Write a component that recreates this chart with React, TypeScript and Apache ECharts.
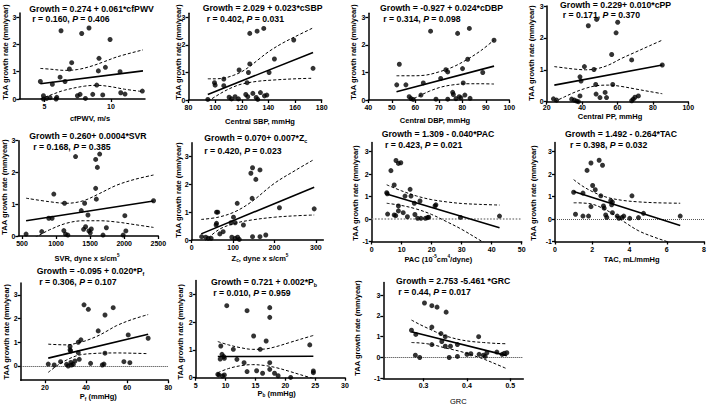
import React, { useEffect, useRef } from "react";
import * as echarts from "echarts";

// ---------- data ----------
const cfpwvPts = [[6.25,2.5],[7.8,2.4],[8.35,2.6],[9.93,2.18],[9.1,1.49],[9.58,1.16],[9.05,1.03],[7.05,1.33],[6.88,1.1],[6.18,0.8],[6.55,0.64],[5.6,0.54],[4.7,0.64],[10.68,1.0],[8.93,0.51],[12.35,0.29],[10.73,0.23],[11.05,0.18],[4.93,0.12],[5.18,0.02],[4.93,0],[5.43,0.05],[5.93,0.06],[5.88,0],[7.48,0.12],[7.68,0.17],[8.08,0.02],[8.63,0.17],[9.38,0.15]];
const cfpwvFit = [[4.7,0.56],[12.4,1.03]];
const cfpwvUpper = [[4.7,1.12],[5.5,1.09],[6.5,1.05],[7.5,1.08],[8.5,1.2],[9.5,1.37],[10.5,1.55],[12.4,1.8]];
const cfpwvLower = [[4.7,0.0],[5.5,0.15],[6.5,0.32],[8,0.47],[9,0.5],[10,0.45],[11,0.36],[12.4,0.27]];

const csbpPts = [[126,2.42],[131.5,2.5],[136.5,2.6],[159,2.18],[144.5,1.49],[126,1.31],[118,1.09],[125,1.0],[140.5,1.0],[173.5,1.15],[106.5,0.76],[99.5,0.63],[100,0.54],[106.5,0.52],[124,0.63],[94.5,0.02],[110.5,0.1],[112.3,0.04],[115,0.12],[117.5,0.04],[123,0.2],[124.5,0.12],[128.3,0.24],[130.8,0.09],[132,0.02],[134,0.27],[137,0.15],[138.8,0.18]];
const csbpFit = [[94.5,0.2],[173.5,1.73]];
const csbpUpper = [[94.5,0.77],[100,0.77],[107,0.8],[114,0.9],[120,1.03],[126,1.22],[132,1.45],[140,1.75],[150,2.05],[160,2.3],[173.5,2.62]];
const csbpLower = [[94.5,-0.05],[100,0.12],[107,0.32],[114,0.48],[120,0.58],[132,0.68],[145,0.73],[160,0.77],[173.5,0.79]];

const cdbpPts = [[52.1,0.55],[53.2,1.3],[56,0.55],[57.4,0.12],[58.2,0.05],[59.1,0.02],[62.4,0.18],[63.4,0.62],[66.5,2.5],[68.8,0.03],[70.8,0.78],[73,1.1],[73.8,1.02],[73.8,0.03],[75.9,0.28],[76.2,0.2],[77.3,0.05],[78,2.42],[78.7,0.12],[79.4,0.08],[80.1,1.14],[80.4,0.62],[81.1,0.18],[82.3,1.48],[83,2.6],[83.3,0.06],[88.7,1.0],[93.5,2.17]];
const cdbpFit = [[52,0.3],[93.5,1.23]];
const cdbpUpper = [[52,0.88],[58,0.88],[64,0.9],[70,1.02],[76,1.2],[82,1.47],[88,1.8],[93.5,2.18]];
const cdbpLower = [[52,-0.3],[56,-0.1],[61,0.12],[66,0.32],[71,0.47],[76,0.55],[82,0.59],[88,0.59],[93.5,0.58]];

const cppPts = [[43.5,2.38],[48.2,2.58],[60.1,2.49],[59.2,2.16],[56.7,1.48],[68,1.31],[41.3,1.1],[46.7,1.01],[85.3,1.15],[38.8,0.78],[39.4,0.65],[47.7,0.54],[57.3,0.54],[47.9,0.24],[53,0.29],[50.1,0.13],[53.8,0.13],[38.8,0.18],[23.8,0.09],[25.6,0.05],[34.1,0.08],[35.6,0.05],[36.9,0.02],[37.9,0],[68,0.03],[68.9,0.08],[69.9,0.14],[71.8,0.18]];
const cppFit = [[24.3,0.52],[85.3,1.15]];
const cppUpper = [[24.3,1.1],[30,1.06],[36,1.02],[42,1.0],[48,1.03],[55,1.15],[62,1.35],[70,1.55],[78,1.75],[85.3,1.93]];
const cppLower = [[24.3,0.0],[30,0.15],[36,0.3],[42,0.42],[48,0.5],[55,0.52],[62,0.48],[70,0.4],[78,0.32],[85.3,0.25]];

const svrPts = [[1286,2.5],[1581,2.41],[1640,2.58],[1606,2.16],[1581,1.5],[1591,1.16],[967,1.32],[1124,1.03],[1419,1.03],[2430,1.11],[1370,0.8],[893,0.56],[942,0.56],[1468,0.66],[2009,0.64],[560,0.06],[790,0.14],[1114,0.17],[1173,0.03],[1139,0.06],[1404,0.21],[1433,0.29],[1482,0.16],[1502,0.1],[1517,0.22],[1738,0.26],[1689,0.03],[1984,0.03],[2024,0.16]];
const svrFit = [[560,0.48],[2430,1.1]];
const svrUpper = [[560,1.19],[900,1.08],[1150,1.03],[1400,1.11],[1640,1.34],[1890,1.6],[2150,1.78],[2430,1.92]];
const svrLower = [[560,-0.2],[750,0.02],[900,0.19],[1150,0.4],[1400,0.48],[1640,0.48],[1890,0.44],[2150,0.36],[2430,0.27]];

const zcPts = [[143,2.4],[147,2.6],[165,2.52],[155,2.18],[146,1.5],[110,1.32],[60,1.0],[63,1.0],[212,1.16],[296,1.12],[101,0.82],[105,0.62],[95,0.62],[60,0.6],[125,0.54],[59,0.54],[24,0.12],[34,0.1],[40,0.06],[47,0.06],[68,0.22],[76,0.3],[97,0.1],[105,0.06],[111,0.1],[115,0.02],[147,0.12],[165,0.12],[179,0.18]];
const zcFit = [[23,0.22],[296,1.9]];
const zcUpper = [[23,0.74],[64,0.82],[105,1.02],[145,1.38],[200,2.04],[250,2.5],[296,2.9]];
const zcLower = [[23,-0.18],[64,0.36],[105,0.6],[145,0.72],[200,0.82],[250,0.87],[296,0.9]];

const pacPts = [[5.0,1.17],[5.2,1.12],[5.3,0.22],[6.4,2.15],[7.5,1.51],[7.5,0.18],[8.0,0.15],[8.1,2.6],[8.9,0.36],[8.9,0.58],[8.9,2.47],[9.7,2.5],[10.5,0.28],[11.1,1.02],[11.9,0.1],[12.8,1.32],[13.1,1.02],[14.2,0.7],[14.4,0.2],[15.3,0.03],[16.1,0.8],[16.4,0.03],[17.9,0.03],[18.6,0.06],[19.0,0.08],[21.1,0.58],[21.4,0.63],[29.6,0.07],[42.6,0.13]];
const pacFit = [[5,1.11],[42.6,-0.39]];
const pacUpper = [[5,1.52],[10,1.25],[15,1.02],[20,0.86],[25,0.76],[30,0.69],[36,0.65],[42.6,0.62]];
const pacLower = [[5,0.7],[10,0.6],[15,0.44],[20,0.2],[25,-0.12],[30,-0.46],[36.8,-1.0],[42.6,-1.45]];

const tacPts = [[1.0,1.19],[1.5,1.15],[1.1,0.21],[1.5,0.13],[1.8,0.13],[1.72,2.16],[1.93,2.49],[2.02,1.49],[2.16,1.3],[1.93,0.55],[2.37,2.61],[2.55,2.39],[2.46,1.03],[2.6,0.58],[2.64,0.48],[2.99,0.81],[3.08,0.75],[3.04,0.63],[2.72,0.18],[2.78,0.07],[3.08,0.28],[3.34,0.13],[3.43,0.03],[3.6,0.07],[3.69,0.13],[4.01,0.03],[4.13,1.03],[4.48,0.06],[4.75,0.25],[6.72,0.13]];
const tacFit = [[1.0,1.22],[6.72,-0.29]];
const tacUpper = [[1.0,1.75],[1.5,1.45],[2,1.22],[2.5,1.04],[3,0.92],[3.7,0.82],[4.5,0.76],[5.5,0.72],[6.72,0.7]];
const tacLower = [[1.0,0.72],[1.5,0.71],[2,0.66],[2.5,0.5],[3,0.28],[3.7,-0.12],[4.5,-0.53],[5.3,-0.8],[6.0,-1.0],[6.72,-1.2]];

const pfPts = [[39,2.58],[41.1,2.39],[53.2,2.46],[49.2,2.15],[45.9,1.48],[60.5,1.31],[70.2,1.17],[37.5,1.1],[36.2,1.0],[32.2,0.82],[32.2,0.68],[32.5,0.63],[36.2,0.56],[49.2,0.54],[21.6,0.08],[24.5,0.04],[27.6,0.18],[30.5,0.07],[31.3,0],[32.6,0.15],[32.9,0.04],[33.8,0.07],[34.6,0.21],[36.7,0.28],[42.2,0.11],[47.9,0.04],[48.7,0.08],[58.4,0.18],[61.3,0.14]];
const pfFit = [[21.6,0.33],[70.2,1.34]];
const pfUpper = [[21.6,0.92],[26,0.9],[30.5,0.89],[35,0.95],[38.6,1.03],[42.5,1.15],[46.7,1.31],[50.7,1.5],[54.8,1.7],[62,1.95],[70.2,2.17]];
const pfLower = [[21.6,-0.27],[26,0.02],[30.5,0.25],[35,0.42],[38.6,0.49],[42.5,0.52],[46.7,0.54],[54.8,0.55],[62,0.54],[70.2,0.52]];

const pbPts = [[10.2,2.59],[13.6,2.41],[17.4,2.52],[17.4,2.17],[14.7,1.5],[16.8,1.32],[9.2,1.14],[11.3,1.02],[15.8,1.02],[24.1,1.18],[9.4,0.84],[9.7,0.76],[9.8,0.7],[9.1,0.67],[11.9,0.66],[13.1,0.54],[17.4,0.54],[8.7,0.12],[8.9,0.1],[9.5,0.06],[9.8,0.1],[13.6,0.22],[15.2,0.25],[16.2,0.16],[17.4,0.3],[18.2,0.16],[18.8,0.07],[20.9,0.01],[24.7,0.24],[24.7,0.18]];
const pbFit = [[8.7,0.76],[24.7,0.77]];
const pbUpper = [[8.7,1.3],[10.5,1.18],[12.5,1.08],[14.5,1.02],[16.5,1.03],[18.5,1.12],[20.5,1.25],[22.5,1.38],[24.7,1.52]];
const pbLower = [[8.7,0.18],[10.5,0.33],[12.5,0.43],[14.5,0.47],[16.5,0.44],[18.5,0.36],[20.5,0.24],[22.5,0.11],[24.7,-0.03]];

const grcPts = [[0.302,2.62],[0.319,2.49],[0.331,2.42],[0.352,2.18],[0.272,1.31],[0.282,1.11],[0.319,1.46],[0.34,1.15],[0.35,1.0],[0.427,1.0],[0.342,0.77],[0.319,0.62],[0.35,0.54],[0.362,0.54],[0.378,0.62],[0.281,0.11],[0.291,0],[0.359,0],[0.378,0.05],[0.4,0.15],[0.409,0.18],[0.428,0.15],[0.438,0.11],[0.442,0.05],[0.446,0.23],[0.469,0.26],[0.481,0.15],[0.486,0.2],[0.492,0.23]];
const grcFit = [[0.272,1.24],[0.492,0.09]];
const grcUpper = [[0.272,1.8],[0.29,1.6],[0.308,1.42],[0.328,1.23],[0.346,1.07],[0.365,0.95],[0.385,0.85],[0.41,0.77],[0.438,0.72],[0.465,0.68],[0.492,0.66]];
const grcLower = [[0.272,0.72],[0.29,0.7],[0.308,0.66],[0.328,0.58],[0.346,0.48],[0.365,0.39],[0.385,0.29],[0.41,0.13],[0.438,-0.07],[0.465,-0.3],[0.492,-0.54]];

// tick labels
const ticks0to3 = [0, 1, 2, 3];
const ticksM1to3 = [-1, 0, 1, 2, 3];
const cfpwvTicks = [5, 10];
const csbpTicks = [80, 100, 120, 140, 160, 180];
const cdbpTicks = [40, 50, 60, 70, 80, 90, 100];
const cppTicks = [20, 40, 60, 80, 100];
const svrTicks = [500, 1000, 1500, 2000, 2500];
const zcTicks = [0, 100, 200, 300];
const pacTicks = [0, 10, 20, 30, 40, 50];
const tacTicks = [0, 2, 4, 6, 8];
const pfTicks = [20, 40, 60, 80];
const pbTicks = [5, 10, 15, 20, 25, 30];
const grcTicks = [0.2, 0.3, 0.4, 0.5];

// texts
const eqTexts = [
  "Growth = 0.274 + 0.061*cfPWV",
  "Growth = 2.029 + 0.023*cSBP",
  "Growth = -0.927 + 0.024*cDBP",
  "Growth = 0.229+ 0.010*cPP",
  "Growth = 0.260+ 0.0004*SVR",
  "Growth = 0.070+ 0.007*Z{sub|c}",
  "Growth = 1.309 - 0.040*PAC",
  "Growth = 1.492 - 0.264*TAC",
  "Growth = -0.095 + 0.020*P{sub|f}",
  "Growth = 0.721 + 0.002*P{sub|b}",
  "Growth = 2.753 -5.461 *GRC",
];
const statTexts = [
  "r = 0.160, {i|P} = 0.406",
  "r = 0.402, {i|P} = 0.031",
  "r = 0.314, {i|P} = 0.098",
  "r = 0.171, {i|P} = 0.370",
  "r = 0.168, {i|P} = 0.385",
  "r = 0.420, {i|P} = 0.023",
  "r = 0.423, {i|P} = 0.021",
  "r = 0.398, {i|P} = 0.032",
  "r = 0.306, {i|P} = 0.107",
  "r = 0.010, {i|P} = 0.959",
  "r = 0.44, {i|P} = 0.017",
];
const xNames = [
  "cfPWV, m/s",
  "Central SBP, mmHg",
  "Central DBP, mmHg",
  "Central PP, mmHg",
  "SVR, dyne x s/cm{sup|5}",
  "Z{sub|c}, dyne x s/cm{sup|5}",
  "PAC (10{sup|-5}cm{sup|4}/dyne)",
  "TAC, mL/mmHg",
  "P{sub|f} (mmHg)",
  "P{sub|b} (mmHg)",
  "GRC",
];
const yName = "TAA growth rate (mm/year)";

const FONT = '"Liberation Sans", Arial, Helvetica, sans-serif';

// layout per panel: grid box [left, top, width, height], axis ranges, text anchors
const panels: any[] = [
  { pts: cfpwvPts, fit: cfpwvFit, up: cfpwvUpper, lo: cfpwvLower, box: [19.3, 13, 125.7, 86], xr: [3.12, 12.55], yr: [0, 3.15], xt: cfpwvTicks, yt: ticks0to3, zero: null, t1: [29.3, 8.5], t2: [32.3, 18.5], xn: [90, 118.3], yn: [5.3, 52] },
  { pts: csbpPts, fit: csbpFit, up: csbpUpper, lo: csbpLower, box: [188.5, 13.3, 133.2, 86.7], xr: [80, 180], yr: [0, 3.15], xt: csbpTicks, yt: ticks0to3, zero: null, t1: [202.7, 8.3], t2: [206.7, 19.3], xn: [260, 121.7], yn: [178.3, 52] },
  { pts: cdbpPts, fit: cdbpFit, up: cdbpUpper, lo: cdbpLower, box: [368.3, 13.3, 141, 86.7], xr: [40, 100], yr: [0, 3.15], xt: cdbpTicks, yt: ticks0to3, zero: null, t1: [380, 8.3], t2: [383.3, 19.3], xn: [435, 120.7], yn: [353.3, 52] },
  { pts: cppPts, fit: cppFit, up: cppUpper, lo: cppLower, box: [546.7, 6, 141.6, 95.7], xr: [20, 100], yr: [0, 3], xt: cppTicks, yt: ticks0to3, zero: null, t1: [560, 4.8], t2: [562.7, 15], xn: [610, 116.5], yn: [531, 53], xMargin: 2 },
  { pts: svrPts, fit: svrFit, up: svrUpper, lo: svrLower, box: [18.3, 140.7, 140, 95.3], xr: [446, 2500], yr: [0, 3], xt: svrTicks, yt: ticks0to3, zero: null, t1: [29.3, 136], t2: [33.3, 147.3], xn: [87, 258.3], yn: [4.5, 187] },
  { pts: zcPts, fit: zcFit, up: zcUpper, lo: zcLower, box: [191.7, 142.7, 131.6, 97.3], xr: [0, 318], yr: [0, 3.5], xt: zcTicks, yt: ticks0to3, zero: null, t1: [204.3, 138.3], t2: [204.3, 150.7], xn: [260, 258.3], yn: [178.5, 190] },
  { pts: pacPts, fit: pacFit, up: pacUpper, lo: pacLower, box: [371.7, 142.5, 150, 99], xr: [0, 50], yr: [-1, 3.4], xt: pacTicks, yt: ticksM1to3, zero: { color: "#8a8a8a", width: 1.6 }, t1: [381.7, 134], t2: [385, 145], xn: [438.3, 259.3], yn: [355, 193] },
  { pts: tacPts, fit: tacFit, up: tacUpper, lo: tacLower, box: [555, 142.5, 151.7, 99], xr: [0, 8], yr: [-1, 3.4], xt: tacTicks, yt: ticksM1to3, zero: { color: "#555", width: 1 }, t1: [565, 134], t2: [570, 145], xn: [631.7, 259.3], yn: [533.3, 193] },
  { pts: pfPts, fit: pfFit, up: pfUpper, lo: pfLower, box: [20.7, 283, 147.6, 97.2], xr: [8.2, 80], yr: [-0.6, 3.5], xt: pfTicks, yt: ticks0to3, zero: { color: "#333", width: 1 }, t1: [36.7, 271], t2: [39.3, 282.3], xn: [98.3, 396.7], yn: [6, 331.7] },
  { pts: pbPts, fit: pbFit, up: pbUpper, lo: pbLower, box: [195.7, 280.4, 149.3, 97.3], xr: [5, 30], yr: [0, 3.5], xt: pbTicks, yt: ticks0to3, zero: null, t1: [211, 281.7], t2: [213.3, 293.3], xn: [276.7, 393.3], yn: [180, 331.7] },
  { pts: grcPts, fit: grcFit, up: grcUpper, lo: grcLower, box: [383.3, 282.6, 140, 95.7], xr: [0.207, 0.53], yr: [-1, 3.6], xt: grcTicks, yt: ticksM1to3, zero: { color: "#333", width: 1 }, t1: [396, 281], t2: [398.3, 291.7], xn: [458.3, 401], yn: [357.3, 328], plainX: true },
];

function rich(fs: number) {
  return {
    i: { fontStyle: "italic", fontWeight: "bold", fontSize: fs, fontFamily: FONT, fill: "#000" },
    sub: { fontSize: fs * 0.62, fontWeight: "bold", fontFamily: FONT, verticalAlign: "bottom", fill: "#000" },
    sup: { fontSize: fs * 0.62, fontWeight: "bold", fontFamily: FONT, verticalAlign: "top", fill: "#000" },
  };
}

function txt(text: string, x: number, y: number, fs: number, align: string, opts: any = {}) {
  return {
    type: "text",
    x,
    y,
    rotation: opts.rotation || 0,
    silent: true,
    style: {
      text,
      fill: "#000",
      fontSize: fs,
      fontWeight: opts.weight || "bold",
      fontFamily: FONT,
      align,
      verticalAlign: "middle",
      lineHeight: fs * 1.3,
      rich: rich(fs),
    },
  };
}

const fmt = (v: number) => String(Math.round(v * 1000) / 1000);

function buildOption() {
  const grid: any[] = [];
  const xAxis: any[] = [];
  const yAxis: any[] = [];
  const series: any[] = [];
  const graphic: any[] = [];
  const axisCommon = {
    type: "value",
    splitLine: { show: false },
    axisLine: { show: true, onZero: false, lineStyle: { color: "#000", width: 1.5 } },
  };
  panels.forEach((p, i) => {
    grid.push({ left: p.box[0], top: p.box[1], width: p.box[2], height: p.box[3], containLabel: false });
    xAxis.push({
      ...axisCommon,
      gridIndex: i,
      min: p.xr[0],
      max: p.xr[1],
      axisTick: { show: true, customValues: p.xt, length: 3, lineStyle: { color: "#000", width: 1.3 } },
      axisLabel: { customValues: p.xt, formatter: fmt, fontSize: 7, fontWeight: "bold", color: "#000", margin: p.xMargin ?? 4, fontFamily: FONT },
    });
    yAxis.push({
      ...axisCommon,
      gridIndex: i,
      min: p.yr[0],
      max: p.yr[1],
      axisTick: { show: true, customValues: p.yt, length: 3, lineStyle: { color: "#000", width: 1.3 } },
      axisLabel: { customValues: p.yt, formatter: fmt, fontSize: 7, fontWeight: "bold", color: "#000", margin: 3, fontFamily: FONT },
    });
    const dash = { color: "#000", width: 1, type: [3, 2] };
    series.push({ type: "line", xAxisIndex: i, yAxisIndex: i, data: p.up, smooth: 0.35, symbol: "none", lineStyle: dash, z: 2 });
    series.push({ type: "line", xAxisIndex: i, yAxisIndex: i, data: p.lo, smooth: 0.35, symbol: "none", lineStyle: dash, z: 2 });
    series.push({ type: "line", xAxisIndex: i, yAxisIndex: i, data: p.fit, symbol: "none", lineStyle: { color: "#000", width: 1.6 }, z: 3 });
    const sc: any = {
      type: "scatter",
      xAxisIndex: i,
      yAxisIndex: i,
      data: p.pts,
      symbol: "circle",
      symbolSize: 5,
      itemStyle: { color: "#000" },
      clip: false,
      z: 4,
    };
    if (p.zero) {
      sc.markLine = {
        silent: true,
        symbol: ["none", "none"],
        label: { show: false },
        lineStyle: { type: "dotted", color: p.zero.color, width: p.zero.width },
        data: [{ yAxis: 0 }],
        z: 1,
      };
    }
    series.push(sc);

    graphic.push(txt(eqTexts[i], p.t1[0], p.t1[1], 8.7, "left"));
    graphic.push(txt(statTexts[i], p.t2[0], p.t2[1], 8.7, "left"));
    graphic.push(txt(xNames[i], p.xn[0], p.xn[1], 7.5, "center", { weight: p.plainX ? "normal" : "bold" }));
    graphic.push(txt(yName, p.yn[0], p.yn[1], 7.5, "center", { rotation: Math.PI / 2 }));
  });
  return { animation: false, backgroundColor: "#fff", grid, xAxis, yAxis, series, graphic };
}

export default function App() {
  const ref = useRef<HTMLDivElement>(null);
  useEffect(() => {
    if (!ref.current) return;
    const chart = echarts.init(ref.current, undefined, { renderer: "svg" });
    chart.setOption(buildOption() as any);
    return () => chart.dispose();
  }, []);
  return (
    <div
      ref={ref}
      style={{ position: "fixed", left: 0, top: 0, width: 709, height: 404, background: "#fff" }}
    />
  );
}
